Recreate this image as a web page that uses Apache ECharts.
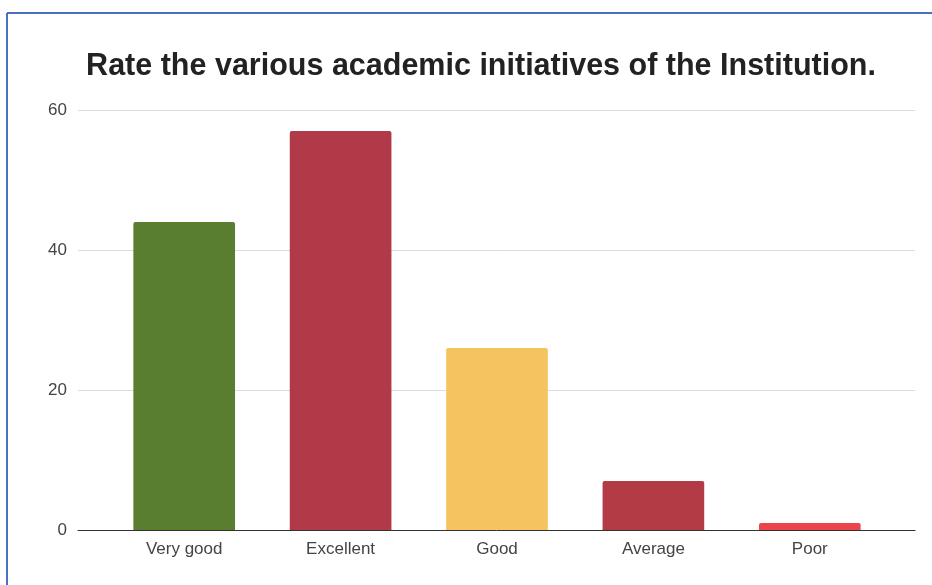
<!DOCTYPE html>
<html><head><meta charset="utf-8">
<script src="https://cdn.jsdelivr.net/npm/echarts@6/dist/echarts.min.js"></script>
<style>html,body{margin:0;padding:0;background:#fff}#c{width:932px;height:585px}</style>
</head><body><div id="c"></div>
<script>
const titleText = "Rate the various academic initiatives of the Institution.";
const categories = ["Very good", "Excellent", "Good", "Average", "Poor"];
const values = [44, 57, 26, 7, 1];
const barColors = ["#5a7e2f", "#b03a47", "#f5c35f", "#b23b46", "#e9454b"];
const yTicks = [0, 20, 40, 60];

const chart = echarts.init(document.getElementById('c'), null, {renderer: 'canvas'});
const textColor = '#444';
chart.setOption({
  backgroundColor: '#fff',
  animation: false,
  title: {
    text: titleText, left: 476, top: 46, textAlign: 'center',
    textStyle: {fontFamily: 'Liberation Sans, Arial, sans-serif', fontWeight: 'bold', fontSize: 30.5, color: '#222'}
  },
  graphic: [
    {type: 'line', shape: {x1: 7, y1: 13, x2: 7, y2: 585}, style: {stroke: '#4a6ec2', lineWidth: 2}, z: 100},
    {type: 'line', shape: {x1: 7, y1: 13, x2: 932, y2: 13}, style: {stroke: '#4a6ec2', lineWidth: 2}, z: 100}
  ],
  grid: [
    {left: 78, right: 17, top: 110, bottom: 55},
    {left: 106, right: 44, top: 110, bottom: 55}
  ],
  xAxis: [
    {gridIndex: 0, type: 'category', data: categories, axisLine: {show: true, lineStyle: {color: '#333', width: 1}},
      axisTick: {show: false}, axisLabel: {show: false}, splitLine: {show: false}},
    {gridIndex: 1, type: 'category', data: categories, axisLine: {show: false}, axisTick: {show: false},
      axisLabel: {color: textColor, fontSize: 17, fontFamily: 'Liberation Sans, Arial, sans-serif', margin: 11}}
  ],
  yAxis: [
    {gridIndex: 0, type: 'value', min: yTicks[0], max: yTicks[yTicks.length-1], interval: 20,
      axisLine: {show: false}, axisTick: {show: false},
      axisLabel: {color: textColor, fontSize: 17, fontFamily: 'Liberation Sans, Arial, sans-serif', margin: 11},
      splitLine: {show: true, lineStyle: {color: '#dcdcdc', width: 1}}},
    {gridIndex: 1, type: 'value', min: yTicks[0], max: yTicks[yTicks.length-1], interval: 20, show: false,
      splitLine: {show: false}}
  ],
  series: [{
    type: 'bar', xAxisIndex: 1, yAxisIndex: 1,
    data: values.map((v, i) => ({value: v, itemStyle: {color: barColors[i]}})),
    barCategoryGap: '35%',
    itemStyle: {borderRadius: [2, 2, 0, 0]},
    z: 3
  }]
});
</script></body></html>
